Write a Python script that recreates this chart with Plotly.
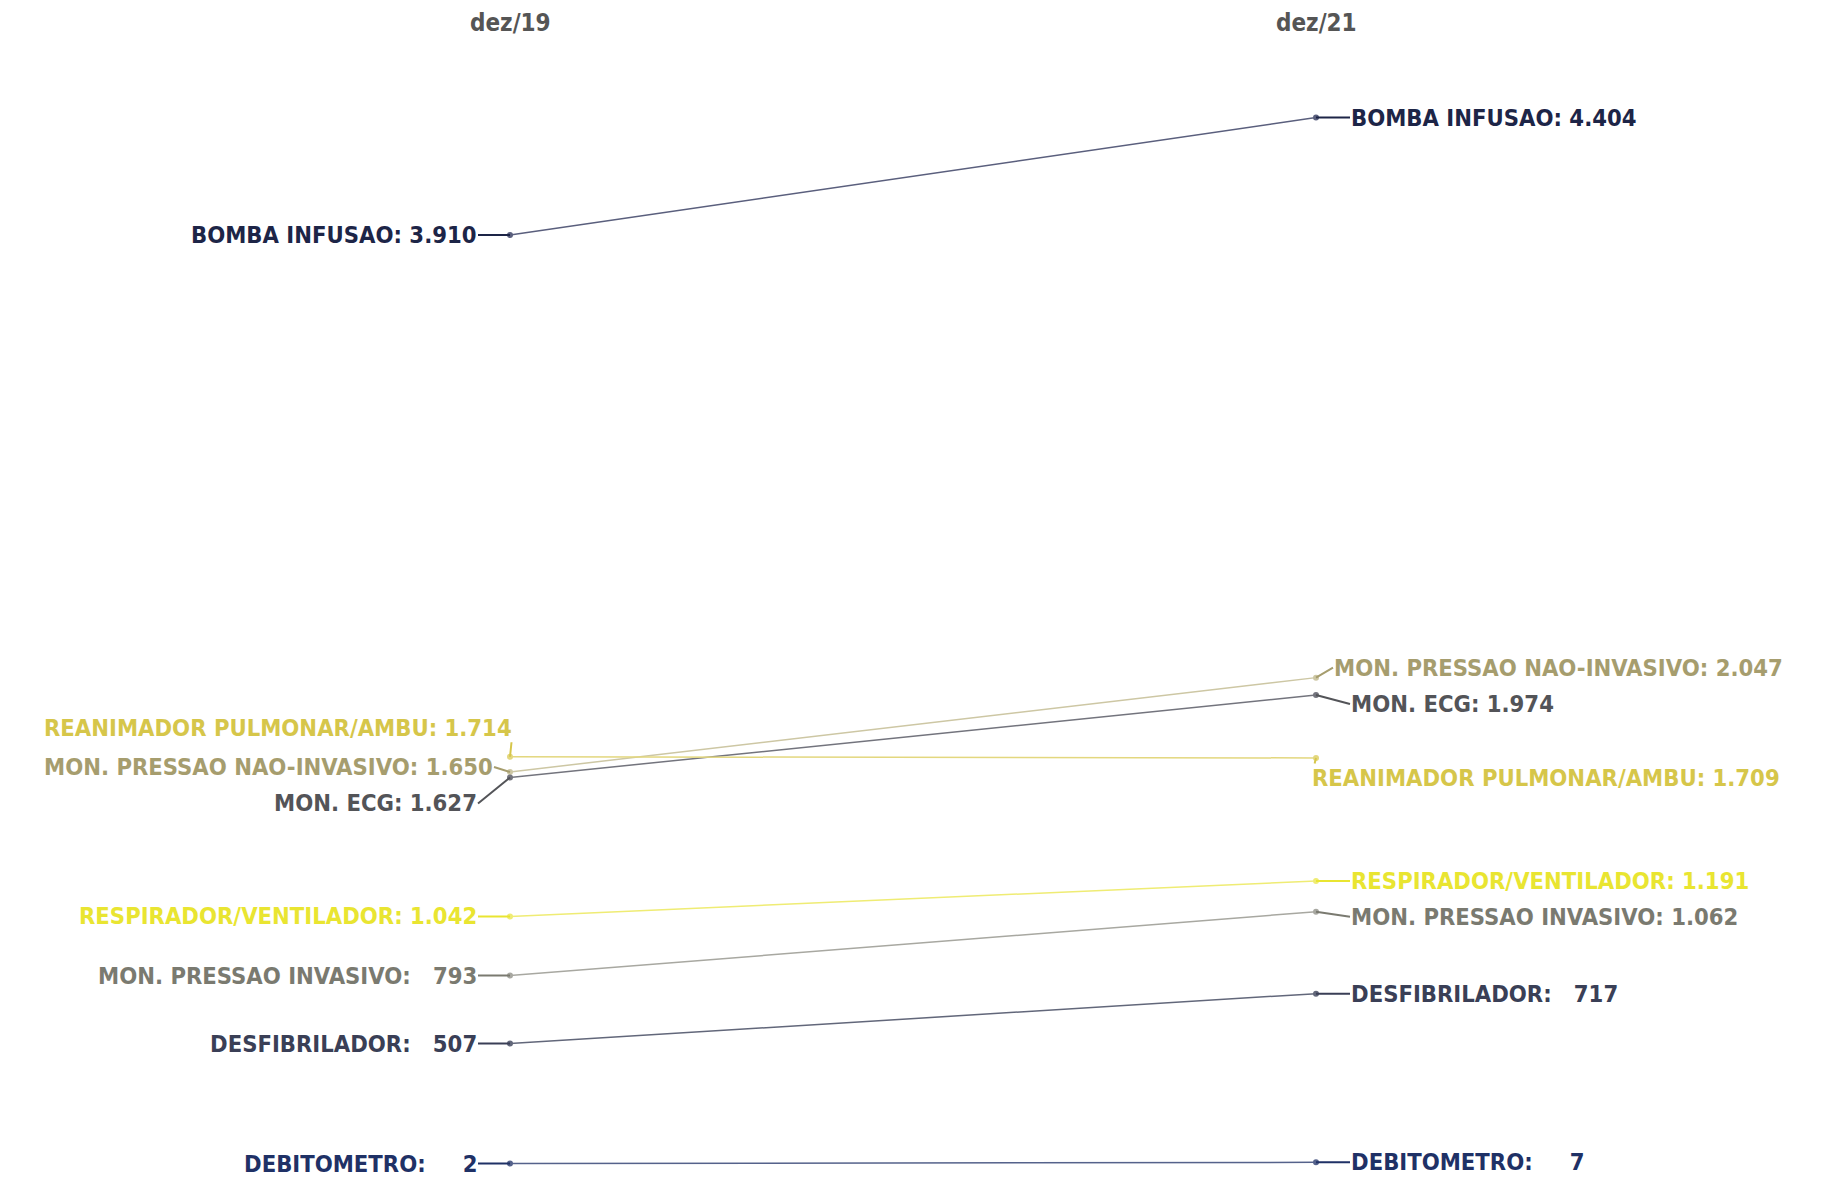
import plotly.graph_objects as go

# ---- data ----
periods = ["dez/19", "dez/21"]
names = [
    "BOMBA INFUSAO",
    "MON. PRESSAO NAO-INVASIVO",
    "MON. ECG",
    "REANIMADOR PULMONAR/AMBU",
    "RESPIRADOR/VENTILADOR",
    "MON. PRESSAO INVASIVO",
    "DESFIBRILADOR",
    "DEBITOMETRO",
]
values_2019 = [3910, 1650, 1627, 1714, 1042, 793, 507, 2]
values_2021 = [4404, 2047, 1974, 1709, 1191, 1062, 717, 7]

text_colors = ["#1d2547", "#a69d6e", "#535458", "#d6c64a", "#e9e531", "#7a7a70", "#3a3f56", "#1f3166"]
line_colors = ["#5a5f7d", "#cdc7a4", "#73747d", "#e3d77e", "#efec74", "#a8a8a1", "#62677a", "#55628b"]

# label offsets (pixels) relative to each point: (ax, ay)
left_offsets = [(-32, 0), (-16, -5), (-32, 26), (3, -29), (-32, 0), (-32, 0), (-32, 0), (-32, 0)]
right_offsets = [(34, 0), (17, -10), (34, 9), (-5, 20), (34, 0), (34, 5), (34, 0), (34, 0)]

FONT = "Liberation Sans Narrow, DejaVu Sans Condensed, Arial Narrow, sans-serif"


def fmt(v):
    s = f"{v:,}".replace(",", ".")
    if v < 10:
        return "\u2007\u2007" + s
    if v < 1000:
        return "\u2007" + s
    return s


fig = go.Figure()
for i, n in enumerate(names):
    fig.add_trace(go.Scatter(
        x=[0, 1], y=[values_2019[i], values_2021[i]],
        mode="lines+markers",
        line=dict(color=line_colors[i], width=1.5),
        marker=dict(color=line_colors[i], size=6),
        showlegend=False, hoverinfo="skip", cliponaxis=False,
    ))

annotations = []
for i, n in enumerate(names):
    for xi, vals, offs, side in ((0, values_2019, left_offsets, "right"), (1, values_2021, right_offsets, "left")):
        ax, ay = offs[i]
        annotations.append(dict(
            x=xi, y=vals[i], xref="x", yref="y",
            text=f"<b>{n}: {fmt(vals[i])}</b>",
            showarrow=True, arrowhead=0, arrowwidth=2, arrowcolor=text_colors[i],
            ax=ax, ay=ay, axref="pixel", ayref="pixel",
            xanchor=side, yanchor="middle", standoff=0, borderpad=0,
            font=dict(family=FONT, size=23.6, color=text_colors[i]),
        ))

for xi, p in enumerate(periods):
    annotations.append(dict(
        x=xi, y=(1180 - 23) / 1180, xref="x", yref="paper",
        text=f"<b>{p}</b>", showarrow=False, xanchor="center", yanchor="middle",
        font=dict(family=FONT, size=24, color="#555555"),
    ))

fig.update_layout(
    width=1825, height=1180,
    margin=dict(l=0, r=0, t=0, b=0),
    paper_bgcolor="white", plot_bgcolor="white",
    xaxis=dict(range=[-510 / 806, 1315 / 806], visible=False, fixedrange=True),
    yaxis=dict(range=[-16 / 0.2376, 1164 / 0.2376], visible=False, fixedrange=True),
    annotations=annotations,
)

fig.write_html("out.html", config={"displayModeBar": False},
               post_script="document.body.style.margin='0';")
